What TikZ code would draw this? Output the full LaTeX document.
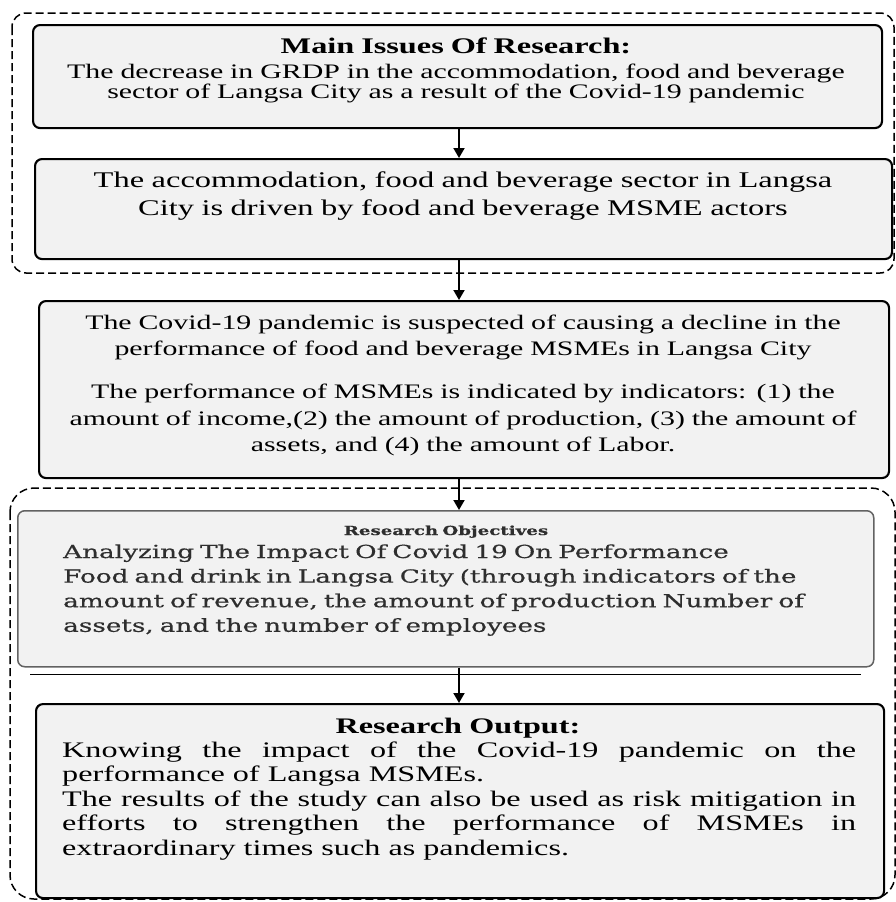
\documentclass[tikz,border=0pt]{standalone}
\usepackage{fontspec}
\setmainfont{Liberation Serif}[FakeStretch=1.45]
\newfontfamily\objfont{DejaVu Serif}[FakeStretch=1.46, FakeBold=0.5]
\usetikzlibrary{positioning,arrows.meta}
\definecolor{boxgray}{HTML}{F2F2F2}
\definecolor{objgray}{HTML}{2E2E2E}

\tikzset{
  panel/.style={draw, line width=2.1pt, rounded corners=7pt, fill=boxgray,
    anchor=north west, inner sep=0pt},
  group/.style={draw, line width=1.5pt, dash pattern=on 8pt off 4pt},
  flow/.style={-{Triangle[length=10pt,width=11pt]}, line width=1.9pt},
  words/.style={anchor=base, align=center, text width=860pt, inner sep=0pt}
}

\begin{document}
\begin{tikzpicture}[x=1pt,y=-1pt]
    \useasboundingbox (0,0) rectangle (896,902);

    %Groups
    \draw[group, rounded corners=14pt] (12,13) rectangle (894,273);
    \draw[group, rounded corners=24pt] (10,488) rectangle (895,899);

    %Boxes
    \node[panel, minimum width=849pt, minimum height=103pt] (issues)    at (32,24)  {};
    \node[panel, minimum width=857pt, minimum height=100pt] (driven)    at (34,158) {};
    \node[panel, minimum width=850pt, minimum height=177pt] (suspect)   at (38,300) {};
    \node[panel, draw=objgray!75, line width=1.5pt,
          minimum width=856pt, minimum height=156pt]        (objective) at (17,510) {};
    \node[panel, minimum width=848pt, minimum height=194pt] (output)    at (35,703) {};
    \draw[line width=1pt] (30,674) -- (861,674);

    %Texts
    \node[words, font=\fontsize{20.6}{20}\selectfont] (issuestext) at (456,53)
        {{\fontsize{22.3}{20}\selectfont\bfseries Main Issues Of Research:}\\[5pt]
         The decrease in GRDP in the accommodation, food and beverage\\
         sector of Langsa City as a result of the Covid-19 pandemic};
    \node[words, font=\fontsize{22.4}{28}\selectfont] (driventext) at (463,187)
        {The accommodation, food and beverage sector in Langsa\\
         City is driven by food and beverage MSME actors};
    \node[words, font=\fontsize{20.6}{26.5}\selectfont] (suspecttext) at (463,329)
        {The Covid-19 pandemic is suspected of causing a decline in the\\
         performance of food and beverage MSMEs in Langsa City\\[16.5pt]
         The performance of MSMEs is indicated by indicators: (1) the\\
         amount of income,(2) the amount of production, (3) the amount of\\
         assets, and (4) the amount of Labor.};
    \node[words, text=objgray, font=\objfont\bfseries\fontsize{12.5}{16}\selectfont]
        (objtitle) at (446,535) {Research Objectives};
    \node[words, anchor=base west, align=left, text width=820pt, text=objgray,
          font=\objfont\fontsize{18}{24.6}\selectfont] (objtext) at (63,558)
        {Analyzing The Impact Of Covid 19 On Performance\\
         Food and drink in Langsa City (through indicators of the\\
         amount of revenue, the amount of production Number of\\
         assets, and the number of employees};
    \node[words, font=\fontsize{22.2}{24.5}\selectfont\bfseries] (outtitle) at (458,733)
        {Research Output:};
    \node[words, anchor=base west, align=justify, text width=794pt,
          font=\fontsize{22.2}{24.5}\selectfont] (outtext) at (62,757)
        {Knowing the impact of the Covid-19 pandemic on the\linebreak
         performance of Langsa MSMEs.\\
         The results of the study can also be used as risk mitigation in\linebreak
         efforts to strengthen the performance of MSMEs in\linebreak
         extraordinary times such as pandemics.};

    %Arrows
    \coordinate (col) at (459,0);
    \draw[flow] (issues.south -| col)    -- (driven.north -| col);
    \draw[flow] (driven.south -| col)    -- (suspect.north -| col);
    \draw[flow] (suspect.south -| col)   -- (objective.north -| col);
    \draw[flow] (objective.south -| col) -- (output.north -| col);
\end{tikzpicture}
\end{document}
